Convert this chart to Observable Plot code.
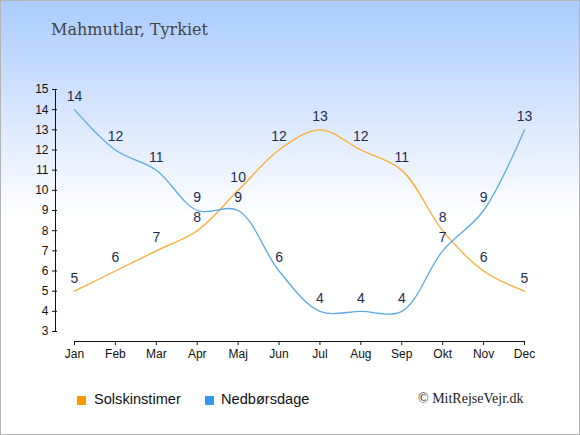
<!DOCTYPE html>
<html><head><meta charset="utf-8">
<script src="https://cdn.jsdelivr.net/npm/d3@7"></script>
<script src="https://cdn.jsdelivr.net/npm/@observablehq/plot@0.6"></script>
<style>
html,body{margin:0;padding:0;}
#wrap{position:relative;width:578px;height:433px;border:1px solid #b4b4b4;
 background:linear-gradient(to bottom,#aaccff 0px,#e6efff 150px,#ffffff 215px,#ffffff 100%);overflow:hidden;}
#title{position:absolute;left:50px;top:19px;font-family:"DejaVu Serif",serif;font-size:16px;color:#444;}
#chart{position:absolute;left:-1px;top:-1px;width:580px;height:370px;}
#chart svg{max-width:none !important;width:580px !important;height:370px !important;display:block;}
.leg{position:absolute;top:390px;font-family:"Liberation Sans",Arial,sans-serif;font-size:14.6px;color:#111;}
.sw{position:absolute;width:9px;height:9px;top:5px;left:0;}
#copy{position:absolute;left:417px;top:390px;font-family:"Liberation Serif","Times New Roman",serif;font-size:14px;color:#222;}
</style></head>
<body>
<div id="wrap">
 <div id="title">Mahmutlar, Tyrkiet</div>
 <div id="chart"></div>
 <div class="leg" style="left:76px"><span class="sw" style="background:#ff9900"></span><span style="margin-left:17px">Solskinstimer</span></div>
 <div class="leg" style="left:204px"><span class="sw" style="background:#3399ee"></span><span style="margin-left:16px">Nedbørsdage</span></div>
 <div id="copy">© MitRejseVejr.dk</div>
</div>
<script>
const months = ["Jan","Feb","Mar","Apr","Maj","Jun","Jul","Aug","Sep","Okt","Nov","Dec"];
const solskin = [5,6,7,8,10,12,13,12,11,8,6,5];
const nedbor = [14,12,11,9,9,6,4,4,4,7,9,13];
const yTicks = [3,4,5,6,7,8,9,10,11,12,13,14,15];

const sunData = months.map((m,i)=>({m, v: solskin[i]}));
const rainData = months.map((m,i)=>({m, v: nedbor[i]}));
const labelColor = "#1d2d50";

const chart = Plot.plot({
  width: 580, height: 370,
  marginLeft: 55, marginRight: 56, marginTop: 89, marginBottom: 29,
  style: {background: "transparent", fontFamily: "Liberation Sans, Arial, sans-serif", overflow: "visible", maxWidth: "none"},
  x: {type: "point", domain: months, padding: 0, round: false, insetLeft: 19, insetRight: 0},
  y: {domain: [3, 15], insetBottom: 10, insetTop: 0},
  marks: [
    Plot.axisY({ticks: yTicks, tickSize: 5, dx: 2, tickPadding: 4, fontSize: 12, color: "#111", label: null, tickFormat: d => d}),
    Plot.axisX({tickSize: 4, tickPadding: 4, fontSize: 12, color: "#111", label: null}),
    Plot.ruleX([0], {x: () => "Jan", y1: 3, y2: 15, dx: -19, stroke: "#111"}),
    Plot.ruleY([0], {y: () => 3, x1: () => "Jan", x2: () => "Dec", dy: 10, stroke: "#111"}),
    Plot.line(sunData, {x: "m", y: "v", stroke: "#ffaa33", strokeWidth: 1.3, curve: "catmull-rom"}),
    Plot.line(rainData, {x: "m", y: "v", stroke: "#5aaae8", strokeWidth: 1.3, curve: "catmull-rom"}),
    Plot.text(sunData, {x: "m", y: "v", text: d => String(d.v), dy: -13, fontSize: 14, fill: labelColor}),
    Plot.text(rainData, {x: "m", y: "v", text: d => String(d.v), dy: -13, fontSize: 14, fill: labelColor})
  ]
});
document.getElementById("chart").appendChild(chart);
</script>
</body></html>
